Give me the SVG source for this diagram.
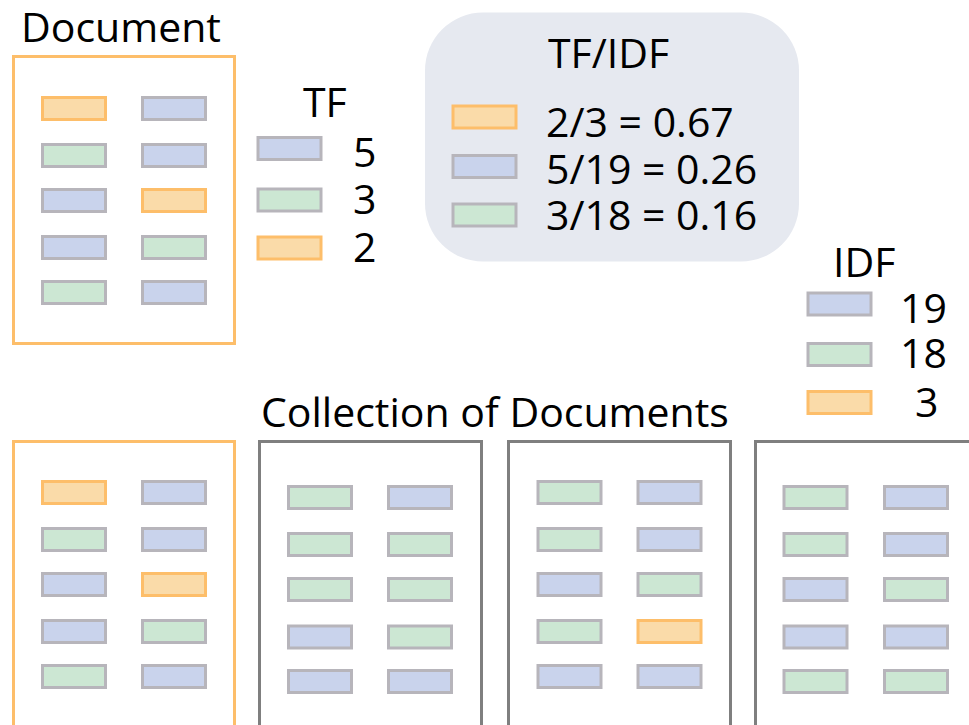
<svg xmlns="http://www.w3.org/2000/svg" width="969" height="725" viewBox="0 0 969 725">
  <style>
    text { font-family: "Open Sans", "Liberation Sans", sans-serif; font-size: 41px; fill: #000; }
    .doc { fill: #FFFFFF; stroke-width: 3; }
    .sel { stroke: #FDBE6A; }
    .other { stroke: #7F7F7F; }
    .t { stroke-width: 3; }
    .o { fill: #FADBA9; stroke: #FDBE6A; }
    .b { fill: #C9D3EC; stroke: #B7B5BB; }
    .g { fill: #CCE7D3; stroke: #B7B5BB; }
    .panel { fill: #E6E9F0; }
  </style>
  <defs>
    <rect id="tk" width="63" height="22"/>
  </defs>

  <rect width="969" height="725" fill="#FFFFFF"/>

  <!-- single document with its term counts -->
  <g id="document">
    <text x="21" y="42">Document</text>
    <rect class="doc sel" x="13.5" y="56.5" width="221" height="287"/>
    <g class="t">
      <use href="#tk" class="o" x="42.5" y="97.5"/>
      <use href="#tk" class="b" x="142.5" y="97.5"/>
      <use href="#tk" class="g" x="42.5" y="144.5"/>
      <use href="#tk" class="b" x="142.5" y="144.5"/>
      <use href="#tk" class="b" x="42.5" y="189.5"/>
      <use href="#tk" class="o" x="142.5" y="189.5"/>
      <use href="#tk" class="b" x="42.5" y="236.5"/>
      <use href="#tk" class="g" x="142.5" y="236.5"/>
      <use href="#tk" class="g" x="42.5" y="281.5"/>
      <use href="#tk" class="b" x="142.5" y="281.5"/>
    </g>
  </g>

  <g id="tf">
    <text x="303" y="117">TF</text>
    <g class="t">
      <use href="#tk" class="b" x="258" y="137.5"/>
      <use href="#tk" class="g" x="258" y="189"/>
      <use href="#tk" class="o" x="258" y="237"/>
    </g>
    <text x="353" y="167">5</text>
    <text x="353" y="214">3</text>
    <text x="353" y="262">2</text>
  </g>

  <!-- weighted result panel -->
  <g id="tfidf">
    <rect class="panel" x="425" y="12.5" width="374" height="249" rx="58" ry="58"/>
    <text x="548" y="68">TF/IDF</text>
    <g class="t">
      <use href="#tk" class="o" x="453" y="106"/>
      <use href="#tk" class="b" x="453" y="155.5"/>
      <use href="#tk" class="g" x="453" y="204"/>
    </g>
    <text x="546" y="137">2/3 = 0.67</text>
    <text x="546" y="183.5">5/19 = 0.26</text>
    <text x="546" y="230">3/18 = 0.16</text>
  </g>

  <g id="idf">
    <text x="833" y="277">IDF</text>
    <g class="t">
      <use href="#tk" class="b" x="808" y="293"/>
      <use href="#tk" class="g" x="808" y="343.5"/>
      <use href="#tk" class="o" x="808" y="391.5"/>
    </g>
    <text x="900" y="323">19</text>
    <text x="900" y="368">18</text>
    <text x="915" y="417">3</text>
  </g>

  <text id="collection-label" x="261" y="427">Collection of Documents</text>

  <!-- the collection: four documents -->
  <g id="doc-1">
    <rect class="doc sel" x="13.5" y="441.5" width="221" height="320"/>
    <g class="t">
      <use href="#tk" class="o" x="42.5" y="481.5"/>
      <use href="#tk" class="b" x="142.5" y="481.5"/>
      <use href="#tk" class="g" x="42.5" y="528.5"/>
      <use href="#tk" class="b" x="142.5" y="528.5"/>
      <use href="#tk" class="b" x="42.5" y="573.5"/>
      <use href="#tk" class="o" x="142.5" y="573.5"/>
      <use href="#tk" class="b" x="42.5" y="620.5"/>
      <use href="#tk" class="g" x="142.5" y="620.5"/>
      <use href="#tk" class="g" x="42.5" y="665.5"/>
      <use href="#tk" class="b" x="142.5" y="665.5"/>
    </g>
  </g>

  <g id="doc-2">
    <rect class="doc other" x="259.5" y="441.5" width="222" height="320"/>
    <g class="t">
      <use href="#tk" class="g" x="288.5" y="486.5"/>
      <use href="#tk" class="b" x="388.5" y="486.5"/>
      <use href="#tk" class="g" x="288.5" y="533.5"/>
      <use href="#tk" class="g" x="388.5" y="533.5"/>
      <use href="#tk" class="g" x="288.5" y="578.5"/>
      <use href="#tk" class="g" x="388.5" y="578.5"/>
      <use href="#tk" class="b" x="288.5" y="626"/>
      <use href="#tk" class="g" x="388.5" y="626"/>
      <use href="#tk" class="b" x="288.5" y="670.5"/>
      <use href="#tk" class="b" x="388.5" y="670.5"/>
    </g>
  </g>

  <g id="doc-3">
    <rect class="doc other" x="508.5" y="441.5" width="222" height="320"/>
    <g class="t">
      <use href="#tk" class="g" x="538" y="481.5"/>
      <use href="#tk" class="b" x="638" y="481.5"/>
      <use href="#tk" class="g" x="538" y="528.5"/>
      <use href="#tk" class="b" x="638" y="528.5"/>
      <use href="#tk" class="b" x="538" y="573.5"/>
      <use href="#tk" class="g" x="638" y="573.5"/>
      <use href="#tk" class="g" x="538" y="620.5"/>
      <use href="#tk" class="o" x="638" y="620.5"/>
      <use href="#tk" class="b" x="538" y="665.5"/>
      <use href="#tk" class="b" x="638" y="665.5"/>
    </g>
  </g>

  <g id="doc-4">
    <rect class="doc other" x="755.5" y="441.5" width="260" height="320"/>
    <g class="t">
      <use href="#tk" class="g" x="784" y="486.5"/>
      <use href="#tk" class="b" x="884.5" y="486.5"/>
      <use href="#tk" class="g" x="784" y="533.5"/>
      <use href="#tk" class="b" x="884.5" y="533.5"/>
      <use href="#tk" class="b" x="784" y="578.5"/>
      <use href="#tk" class="g" x="884.5" y="578.5"/>
      <use href="#tk" class="b" x="784" y="626"/>
      <use href="#tk" class="b" x="884.5" y="626"/>
      <use href="#tk" class="g" x="784" y="670.5"/>
      <use href="#tk" class="g" x="884.5" y="670.5"/>
    </g>
  </g>

  <g id="connectors"/>
</svg>
